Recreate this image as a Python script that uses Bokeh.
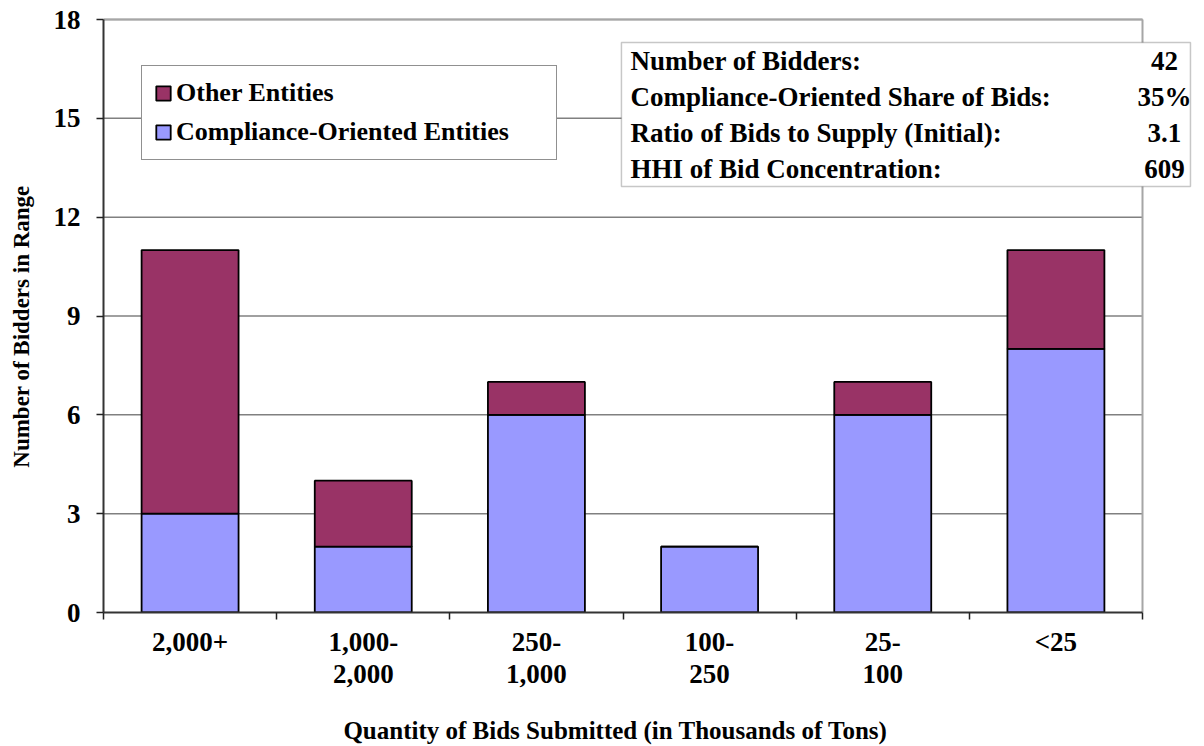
import numpy as np
from bokeh.plotting import figure
from bokeh.models import (ColumnDataSource, FixedTicker, Legend, LegendItem,
                          BoxAnnotation, LabelSet, Range1d)
from bokeh.embed import file_html
from bokeh.resources import INLINE

# ---- data ----
categories = ["2,000+", "1,000-\n2,000", "250-\n1,000", "100-\n250", "25-\n100", "<25"]
compliance = [3, 2, 6, 2, 6, 8]
other = [8, 2, 1, 0, 1, 3]
y_ticks = [0, 3, 6, 9, 12, 15, 18]
stat_names = ["Number of Bidders:", "Compliance-Oriented Share of Bids:",
              "Ratio of Bids to Supply (Initial):", "HHI of Bid Concentration:"]
stat_values = ["42", "35%", "3.1", "609"]
x_title = "Quantity of Bids Submitted (in Thousands of Tons)"
y_title = "Number of Bidders in Range"

FONT = "Liberation Serif"
C_COMP = "#9999FF"
C_OTHER = "#993366"
NBSP = "\u00a0"

n = len(categories)
ymax = y_ticks[-1]
xpos = list(np.arange(n) + 0.5)

src = ColumnDataSource(dict(x=xpos, cat=categories, comp=compliance, other=other))

# frame spans a little further right than the category area so that the
# statistics box (which overhangs the plot border) is not clipped
p = figure(width=1204, height=746, output_backend="svg", toolbar_location=None,
           x_range=Range1d(0, n * 1093 / 1039), y_range=Range1d(0, ymax * 595 / 593),
           min_border_left=103, min_border_right=8, min_border_top=17,
           min_border_bottom=134)
p.background_fill_color = "white"
p.border_fill_color = "white"
p.outline_line_color = None
p.xgrid.grid_line_color = None
p.ygrid.grid_line_color = None

# horizontal gridlines over the category area only
p.segment(x0=[0] * (len(y_ticks) - 1), x1=[n] * (len(y_ticks) - 1),
          y0=y_ticks[1:], y1=y_ticks[1:], line_color="#808080", line_width=1.5)
# plot-area border (top and right)
p.segment(x0=[0, n], y0=[ymax, 0], x1=[n, n], y1=[ymax, ymax],
          line_color="#a6a6a6", line_width=2)

renderers = p.vbar_stack(["comp", "other"], x="x", width=0.56, source=src,
                         fill_color=[C_COMP, C_OTHER], line_color="black",
                         line_width=1.8)

# axes
p.xaxis.ticker = FixedTicker(ticks=xpos, minor_ticks=list(range(n + 1)))
p.xaxis.bounds = (0, n)
p.xaxis.major_label_overrides = {xv: c for xv, c in zip(xpos, categories)}
p.xaxis.major_tick_out = 0
p.xaxis.major_tick_in = 0
p.xaxis.minor_tick_out = 7
p.xaxis.minor_tick_in = 0
p.xaxis.minor_tick_line_color = "#222222"
p.xaxis.minor_tick_line_width = 1.5
p.xaxis.major_label_standoff = 7
p.xaxis.major_label_text_line_height = 1.07
# trailing no-break spaces keep the title centred under the category area
p.xaxis.axis_label = x_title + NBSP * 11
p.xaxis.axis_label_standoff = 25

p.yaxis.ticker = FixedTicker(ticks=y_ticks)
p.yaxis.bounds = (0, ymax)
p.yaxis.minor_tick_line_color = None
p.yaxis.major_tick_out = 7
p.yaxis.major_tick_in = 0
p.yaxis.major_label_standoff = 16
p.yaxis.axis_label = y_title + NBSP * 4
p.yaxis.axis_label_standoff = 17

for ax in (p.xaxis[0], p.yaxis[0]):
    ax.axis_line_color = "#333333"
    ax.axis_line_width = 2
    ax.major_tick_line_color = "#222222"
    ax.major_tick_line_width = 1.5
    ax.major_label_text_font = FONT
    ax.major_label_text_font_style = "bold"
    ax.major_label_text_font_size = "27px"
    ax.major_label_text_color = "black"
    ax.axis_label_text_font = FONT
    ax.axis_label_text_font_style = "bold"
    ax.axis_label_text_color = "black"
p.xaxis.axis_label_text_font_size = "25px"
p.yaxis.axis_label_text_font_size = "23px"

# legend
legend = Legend(items=[LegendItem(label="Other Entities", renderers=[renderers[1]]),
                       LegendItem(label="Compliance-Oriented Entities", renderers=[renderers[0]])],
                location=(38, 452), orientation="vertical",
                padding=12, spacing=9, margin=0,
                glyph_width=18, glyph_height=18, label_standoff=4,
                label_width=368,
                label_text_font=FONT, label_text_font_style="bold",
                label_text_font_size="26px", label_text_color="black",
                border_line_color="#222222", border_line_width=1.5,
                background_fill_color="white", background_fill_alpha=1.0)
p.add_layout(legend, "center")

# statistics box
box = BoxAnnotation(left=2.991, right=6.277, top=17.30, bottom=12.93,
                    fill_color="white", fill_alpha=1.0,
                    line_color="#444444", line_width=1.5, level="overlay")
p.add_layout(box)

row_y = [16.73 - 1.093 * i for i in range(len(stat_names))]
stat_src = ColumnDataSource(dict(name=stat_names, val=stat_values, y=row_y,
                                 xl=[3.043] * len(stat_names),
                                 xr=[6.127] * len(stat_names)))
common = dict(source=stat_src, text_font=FONT, text_font_style="bold",
              text_font_size="27px", text_color="black", text_baseline="middle",
              level="overlay")
p.add_layout(LabelSet(x="xl", y="y", text="name", text_align="left", **common))
p.add_layout(LabelSet(x="xr", y="y", text="val", text_align="center", **common))

open("out.html", "w").write(file_html(p, INLINE))
